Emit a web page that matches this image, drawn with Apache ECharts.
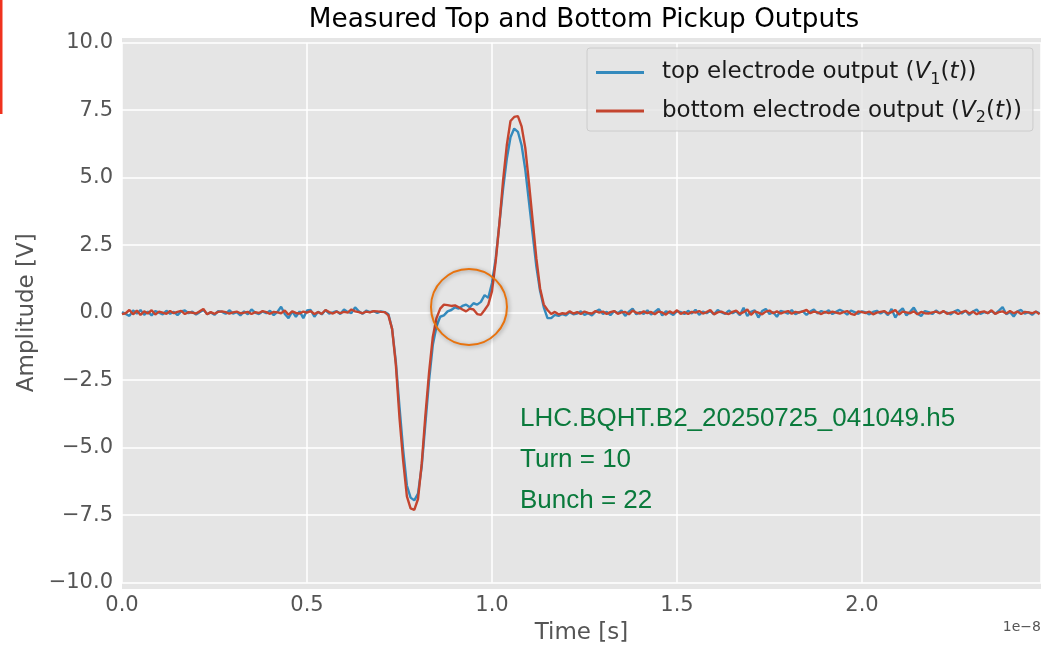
<!DOCTYPE html>
<html>
<head>
<meta charset="utf-8">
<script src="https://cdn.jsdelivr.net/npm/echarts@6/dist/echarts.min.js"></script>
<style>
  html, body { margin: 0; padding: 0; background: #ffffff; }
  #chart { width: 1053px; height: 647px; }
</style>
</head>
<body>
<div id="chart"></div>
<script>
// Sampling period of the pickup digitiser [s]
const sampleStep = 1e-10;

// Top electrode output V1(t) [V], one value per sample
const topElectrode = [
  0.02, -0.05, -0.12, 0.08, -0.03, 0.10, -0.08, 0.04, -0.10, 0.06, 0.00, -0.06,
  0.07, -0.04, 0.03, -0.09, 0.05, 0.08, -0.02, 0.04, -0.07, 0.02, 0.10, -0.05,
  0.01, -0.08, 0.06, 0.03, -0.04, 0.09, -0.03, 0.02, -0.10, 0.05, -0.06, 0.12,
  0.00, -0.05, 0.04, -0.02, 0.07, -0.09, 0.03, 0.22, -0.05, -0.20, 0.05, -0.15,
  0.05, -0.20, 0.08, 0.10, -0.15, 0.04, -0.06, 0.09, -0.03, 0.01, 0.06, -0.05,
  0.12, 0.03, -0.02, 0.20, 0.05, -0.04, 0.08, 0.02, 0.06, -0.01, 0.05, 0.02,
  -0.05, -0.6, -1.8, -3.5, -5.1, -6.4, -6.85, -6.95, -6.7, -5.7, -4.1, -2.5,
  -1.2, -0.5, -0.15, -0.1, 0.05, 0.1, 0.2, 0.15, 0.25, 0.3, 0.2, 0.35,
  0.3, 0.4, 0.65, 0.55, 1.1, 2.0, 3.3, 4.6, 5.7, 6.5, 6.82, 6.7,
  6.2, 5.3, 4.1, 2.9, 1.7, 0.8, 0.2, -0.2, -0.2,
  -0.08, -0.12, -0.05, -0.10, 0.02, -0.06, -0.03, 0.05, -0.08, -0.02, -0.10, 0.04,
  0.12, -0.05, 0.03, -0.09, 0.06, -0.02, 0.08, -0.12, 0.04, 0.15, -0.06, 0.02,
  -0.04, 0.09, -0.07, 0.03, 0.14, -0.10, 0.05, 0.00, -0.08, 0.06, 0.02, -0.05,
  0.07, -0.03, 0.11, -0.08, 0.04, -0.02, 0.06, -0.06, 0.10, 0.01, -0.04, 0.08,
  -0.02, 0.05, -0.09, 0.18, -0.12, 0.03, 0.09, -0.18, 0.06, 0.14, -0.05, 0.02,
  -0.15, 0.07, 0.03, -0.04, 0.10, -0.06, 0.02, 0.05, -0.08, 0.04, 0.12, -0.03,
  0.06, 0.00, 0.09, -0.05, 0.03, 0.11, 0.04, -0.07, 0.08, 0.02, -0.04, 0.05,
  0.01, -0.06, 0.03, 0.07, -0.03, 0.05, -0.09, 0.14, -0.18, 0.04, 0.16, -0.10,
  0.03, 0.19, -0.04, -0.12, 0.06, 0.02, -0.05, 0.08, -0.02, 0.04, 0.00, -0.06,
  0.05, 0.10, -0.03, 0.07, -0.08, 0.04, 0.12, -0.05, 0.02, -0.01, 0.06, -0.04,
  0.08, 0.21, -0.06, 0.03, -0.14, 0.05, 0.10, -0.03, 0.02, -0.08, 0.04, -0.02
];

// Bottom electrode output V2(t) [V], one value per sample
const bottomElectrode = [
  -0.05, -0.02, 0.10, -0.06, 0.08, -0.08, 0.05, -0.03, 0.09, -0.07, 0.04, 0.00,
  -0.04, 0.06, -0.02, 0.03, 0.07, -0.05, 0.02, 0.00, -0.03, 0.05, 0.14, -0.06,
  0.02, -0.04, 0.03, 0.05, 0.02, -0.03, 0.01, 0.04, -0.02, 0.00, 0.03, -0.05,
  0.02, -0.01, 0.06, 0.02, -0.04, 0.03, 0.01, -0.02, 0.08, -0.07, 0.05, -0.01,
  -0.03, 0.04, 0.00, 0.06, -0.05, 0.02, -0.04, 0.10, 0.02, -0.03, 0.04, -0.02,
  0.03, 0.00, 0.12, 0.05, 0.02, -0.02, 0.04, 0.01, 0.06, 0.05, 0.03, 0.02,
  -0.1, -0.6, -1.9, -3.9, -5.5, -6.8, -7.25, -7.3, -6.9, -5.6, -3.8, -2.2,
  -0.9, -0.2, 0.15, 0.3, 0.28, 0.25, 0.27, 0.2, 0.12, 0.05, 0.15, 0.12,
  -0.05, -0.08, 0.1, 0.3, 0.8, 1.9, 3.3, 4.9, 6.2, 7.1, 7.25, 7.28,
  6.9, 6.1, 4.8, 3.4, 2.0, 0.9, 0.3, 0.1, -0.05,
  0.03, -0.06, -0.02, -0.04, 0.05, -0.03, 0.02, -0.05, 0.04, -0.01, -0.03, 0.06,
  0.00, 0.04, -0.05, 0.02, 0.06, -0.04, 0.01, 0.03, -0.06, 0.08, 0.00, -0.03,
  0.05, -0.02, 0.03, -0.06, 0.04, 0.01, -0.07, 0.05, -0.02, 0.09, -0.04, 0.02,
  -0.05, 0.03, 0.00, 0.06, -0.03, 0.02, 0.10, -0.06, 0.01, 0.04, -0.02, -0.05,
  0.03, 0.08, -0.04, 0.02, 0.12, -0.08, 0.05, 0.00, -0.06, 0.04, 0.08, -0.02,
  0.05, -0.03, 0.02, 0.06, -0.04, 0.03, 0.00, 0.05, 0.10, -0.02, 0.04, 0.01,
  -0.05, 0.03, -0.02, 0.04, 0.00, -0.03, 0.02, 0.06, -0.04, -0.08, 0.05, 0.02,
  -0.01, 0.04, -0.06, 0.00, 0.03, 0.06, -0.03, 0.02, 0.10, -0.07, 0.04, 0.01,
  -0.02, 0.05, -0.06, 0.03, -0.02, -0.03, 0.01, 0.04, -0.02, 0.06, -0.04, 0.00,
  0.03, -0.05, 0.02, 0.07, -0.03, 0.04, -0.06, 0.02, 0.05, -0.02, 0.09, -0.04,
  0.02, 0.05, -0.03, 0.06, -0.02, 0.04, -0.05, 0.03, 0.01, -0.02, 0.04, -0.06
];

// Axis ranges and tick spacing
const timeRange = [0, 2.4838e-8];
const timeTickStep = 0.5e-8;
const amplitudeRange = [-10, 10];
const amplitudeTickStep = 2.5;

// Annotation text and the highlighted region (time [s], amplitude [V])
const infoLines = ['LHC.BQHT.B2_20250725_041049.h5', 'Turn = 10', 'Bunch = 22'];
const highlightCentre = [0.9378e-8, 0.21];

const seriesNames = ['top electrode output (V1(t))', 'bottom electrode output (V2(t))'];

const toPairs = (values) => values.map((v, i) => [i * sampleStep, v]);
const minus = (s) => s.replace('-', '\u2212');

const FONT = 'DejaVu Sans';
const chart = echarts.init(document.getElementById('chart'), null, { renderer: 'canvas' });

const legendRich = {
  n: { fontFamily: FONT, fontSize: 23, color: '#1a1a1a', lineHeight: 30 },
  i: { fontFamily: FONT, fontSize: 23, fontStyle: 'italic', color: '#1a1a1a', lineHeight: 30 },
  s: { fontFamily: FONT, fontSize: 16, color: '#1a1a1a', lineHeight: 19, verticalAlign: 'bottom' }
};

chart.setOption({
  animation: false,
  backgroundColor: '#ffffff',
  title: {
    text: 'Measured Top and Bottom Pickup Outputs',
    left: 579, top: 2, textAlign: 'center',
    textStyle: { fontFamily: FONT, fontSize: 26.3, fontWeight: 'normal', color: '#000000' }
  },
  grid: { left: 122, right: 12, top: 42.7, bottom: 64.3, show: false },
  legend: {
    orient: 'vertical',
    left: 587, top: 48,
    padding: [13, 11, 5, 9],
    itemGap: 12,
    itemWidth: 48, itemHeight: 3,
    icon: 'rect',
    backgroundColor: 'rgba(229,229,229,0.8)',
    borderColor: '#cccccc', borderWidth: 1, borderRadius: 3,
    data: seriesNames,
    formatter: function (name) {
      const idx = name.startsWith('top') ? 1 : 2;
      const head = idx === 1 ? 'top electrode output (' : 'bottom electrode output (';
      return '{n|' + head + '}{i|V}{s|' + idx + '}{n|(}{i|t}{n|))}';
    },
    textStyle: { rich: legendRich, padding: [0, 0, 0, 13] }
  },
  xAxis: {
    type: 'value',
    min: timeRange[0], max: timeRange[1],
    interval: timeTickStep,
    axisLine: { show: false },
    axisTick: { show: false },
    splitLine: { show: true, lineStyle: { color: '#ffffff', width: 1.5 } },
    axisLabel: {
      showMaxLabel: false,
      margin: 12,
      fontFamily: FONT, fontSize: 21, color: '#555555',
      formatter: (v) => (v / 1e-8).toFixed(1)
    }
  },
  yAxis: {
    type: 'value',
    min: amplitudeRange[0], max: amplitudeRange[1],
    interval: amplitudeTickStep,
    axisLine: { show: false },
    axisTick: { show: false },
    splitLine: { show: true, lineStyle: { color: '#ffffff', width: 1.5 } },
    axisLabel: {
      margin: 9,
      fontFamily: FONT, fontSize: 21, color: '#555555',
      formatter: (v) => minus(v.toFixed(1))
    }
  },
  series: [
    {
      name: seriesNames[0], type: 'line', data: toPairs(topElectrode),
      showSymbol: false, clip: true,
      lineStyle: { color: '#348ABD', width: 2.4 }, itemStyle: { color: '#348ABD' }, z: 3
    },
    {
      name: seriesNames[1], type: 'line', data: toPairs(bottomElectrode),
      showSymbol: false, clip: true,
      lineStyle: { color: '#C4452F', width: 2.4 }, itemStyle: { color: '#C4452F' }, z: 4
    }
  ]
});

// Plot-area background and annotations, positioned from the axis scales
const tl = chart.convertToPixel({ gridIndex: 0 }, [timeRange[0], amplitudeRange[1]]);
const br = chart.convertToPixel({ gridIndex: 0 }, [timeRange[1], amplitudeRange[0]]);
const hc = chart.convertToPixel({ gridIndex: 0 }, highlightCentre);
const infoLeft = chart.convertToPixel({ gridIndex: 0 }, [1.0757e-8, 0])[0];

chart.setOption({
  graphic: [
    {
      type: 'rect', z: -10, silent: true,
      shape: { x: tl[0], y: tl[1] - 4.7, width: br[0] - tl[0], height: br[1] - tl[1] + 11 },
      style: { fill: '#E5E5E5' }
    },
    {
      type: 'rect', z: 10, silent: true,
      shape: { x: 0, y: 0, width: 2.5, height: 114 },
      style: { fill: '#F0321E' }
    },
    {
      type: 'circle', z: 20, silent: true,
      shape: { cx: hc[0], cy: hc[1], r: 38 },
      style: { fill: 'none', stroke: '#E8730E', lineWidth: 2,
               shadowBlur: 4, shadowColor: 'rgba(0,0,0,0.35)', shadowOffsetX: 1, shadowOffsetY: 1 }
    },
    ...infoLines.map((t, k) => ({
      type: 'text', z: 20, silent: true,
      x: infoLeft, y: [418.5, 459.5, 501][k],
      style: { text: t, fontFamily: 'Liberation Sans', fontSize: 26, fill: '#0A7A3C',
               align: 'left', verticalAlign: 'middle' }
    })),
    {
      type: 'text', z: 20, silent: true,
      x: 27, y: (tl[1] + br[1]) / 2, rotation: Math.PI / 2,
      style: { text: 'Amplitude [V]', fontFamily: FONT, fontSize: 23, fill: '#555555',
               align: 'center', verticalAlign: 'middle' }
    },
    {
      type: 'text', z: 20, silent: true,
      x: (tl[0] + br[0]) / 2, y: 633,
      style: { text: 'Time [s]', fontFamily: FONT, fontSize: 23, fill: '#555555',
               align: 'center', verticalAlign: 'middle' }
    },
    {
      type: 'text', z: 20, silent: true,
      x: br[0], y: 627,
      style: { text: '1e\u22128', fontFamily: FONT, fontSize: 14, fill: '#555555',
               align: 'right', verticalAlign: 'middle' }
    }
  ]
});
</script>
</body>
</html>
